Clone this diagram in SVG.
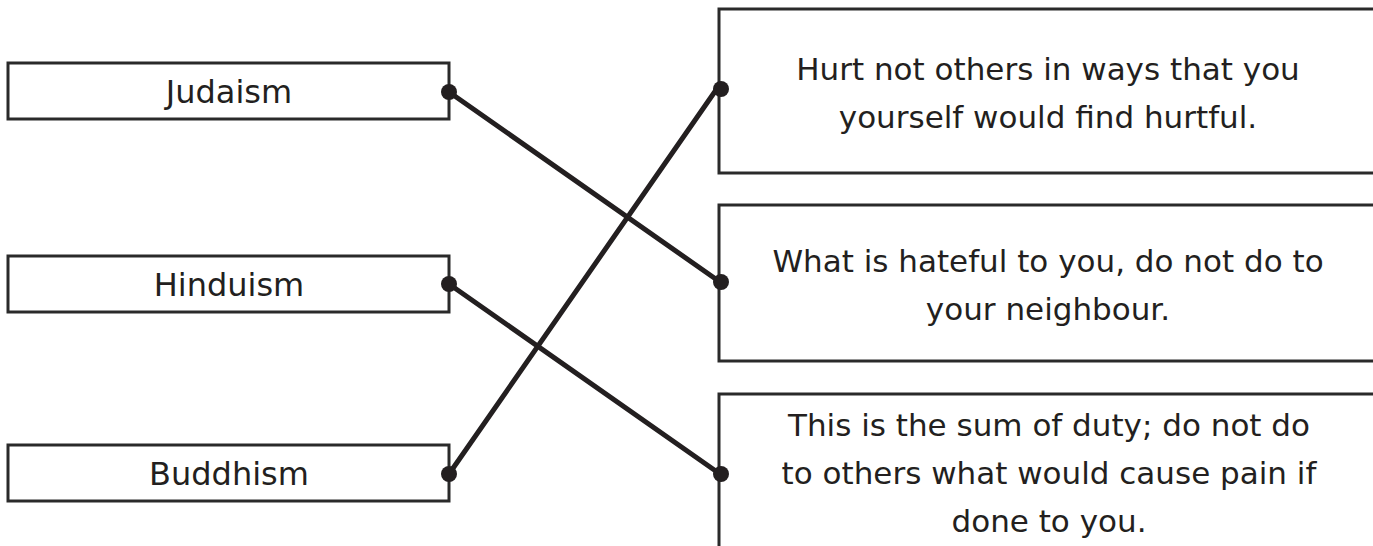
<svg xmlns="http://www.w3.org/2000/svg" width="1373" height="546" viewBox="0 0 1373 546">
<style>
.box{fill:#fff;stroke:#2a2a2a;stroke-width:3}
.lt{font-family:"DejaVu Sans",sans-serif;font-size:32px;fill:#231f20;text-anchor:middle}
.rt{font-family:"DejaVu Sans",sans-serif;font-size:31px;fill:#231f20;text-anchor:middle}
.conn{stroke:#231f20;stroke-width:5;stroke-linecap:round;fill:none}
.dot{fill:#231f20}
</style>
<rect width="1373" height="546" fill="#fff"/>
<g id="judaism"><rect class="box" x="8" y="63" width="441" height="56"/><text class="lt" x="229" y="103">Judaism</text></g>
<g id="hinduism"><rect class="box" x="8" y="256" width="441" height="56"/><text class="lt" x="229" y="296">Hinduism</text></g>
<g id="buddhism"><rect class="box" x="8" y="445" width="441" height="56"/><text class="lt" x="229" y="485">Buddhism</text></g>
<g id="saying1"><rect class="box" x="719" y="9" width="700" height="164"/><text class="rt" x="1048" y="80">Hurt not others in ways that you</text><text class="rt" x="1048" y="128">yourself would find hurtful.</text></g>
<g id="saying2"><rect class="box" x="719" y="205" width="700" height="156"/><text class="rt" x="1048" y="272">What is hateful to you, do not do to</text><text class="rt" x="1048" y="320">your neighbour.</text></g>
<g id="saying3"><rect class="box" x="719" y="394" width="700" height="200"/><text class="rt" x="1049" y="436">This is the sum of duty; do not do</text><text class="rt" x="1049" y="484">to others what would cause pain if</text><text class="rt" x="1049" y="532">done to you.</text></g>
<g id="connectors">
<line class="conn" x1="449" y1="92" x2="720" y2="282"/>
<line class="conn" x1="449" y1="284" x2="720" y2="474"/>
<line class="conn" x1="449" y1="474" x2="716" y2="90"/>
<circle class="dot" cx="449" cy="92" r="8"/>
<circle class="dot" cx="449" cy="284" r="8"/>
<circle class="dot" cx="449" cy="474" r="8"/>
<circle class="dot" cx="721" cy="89" r="8"/>
<circle class="dot" cx="721" cy="282" r="8"/>
<circle class="dot" cx="721" cy="474" r="8"/>
</g>
</svg>
